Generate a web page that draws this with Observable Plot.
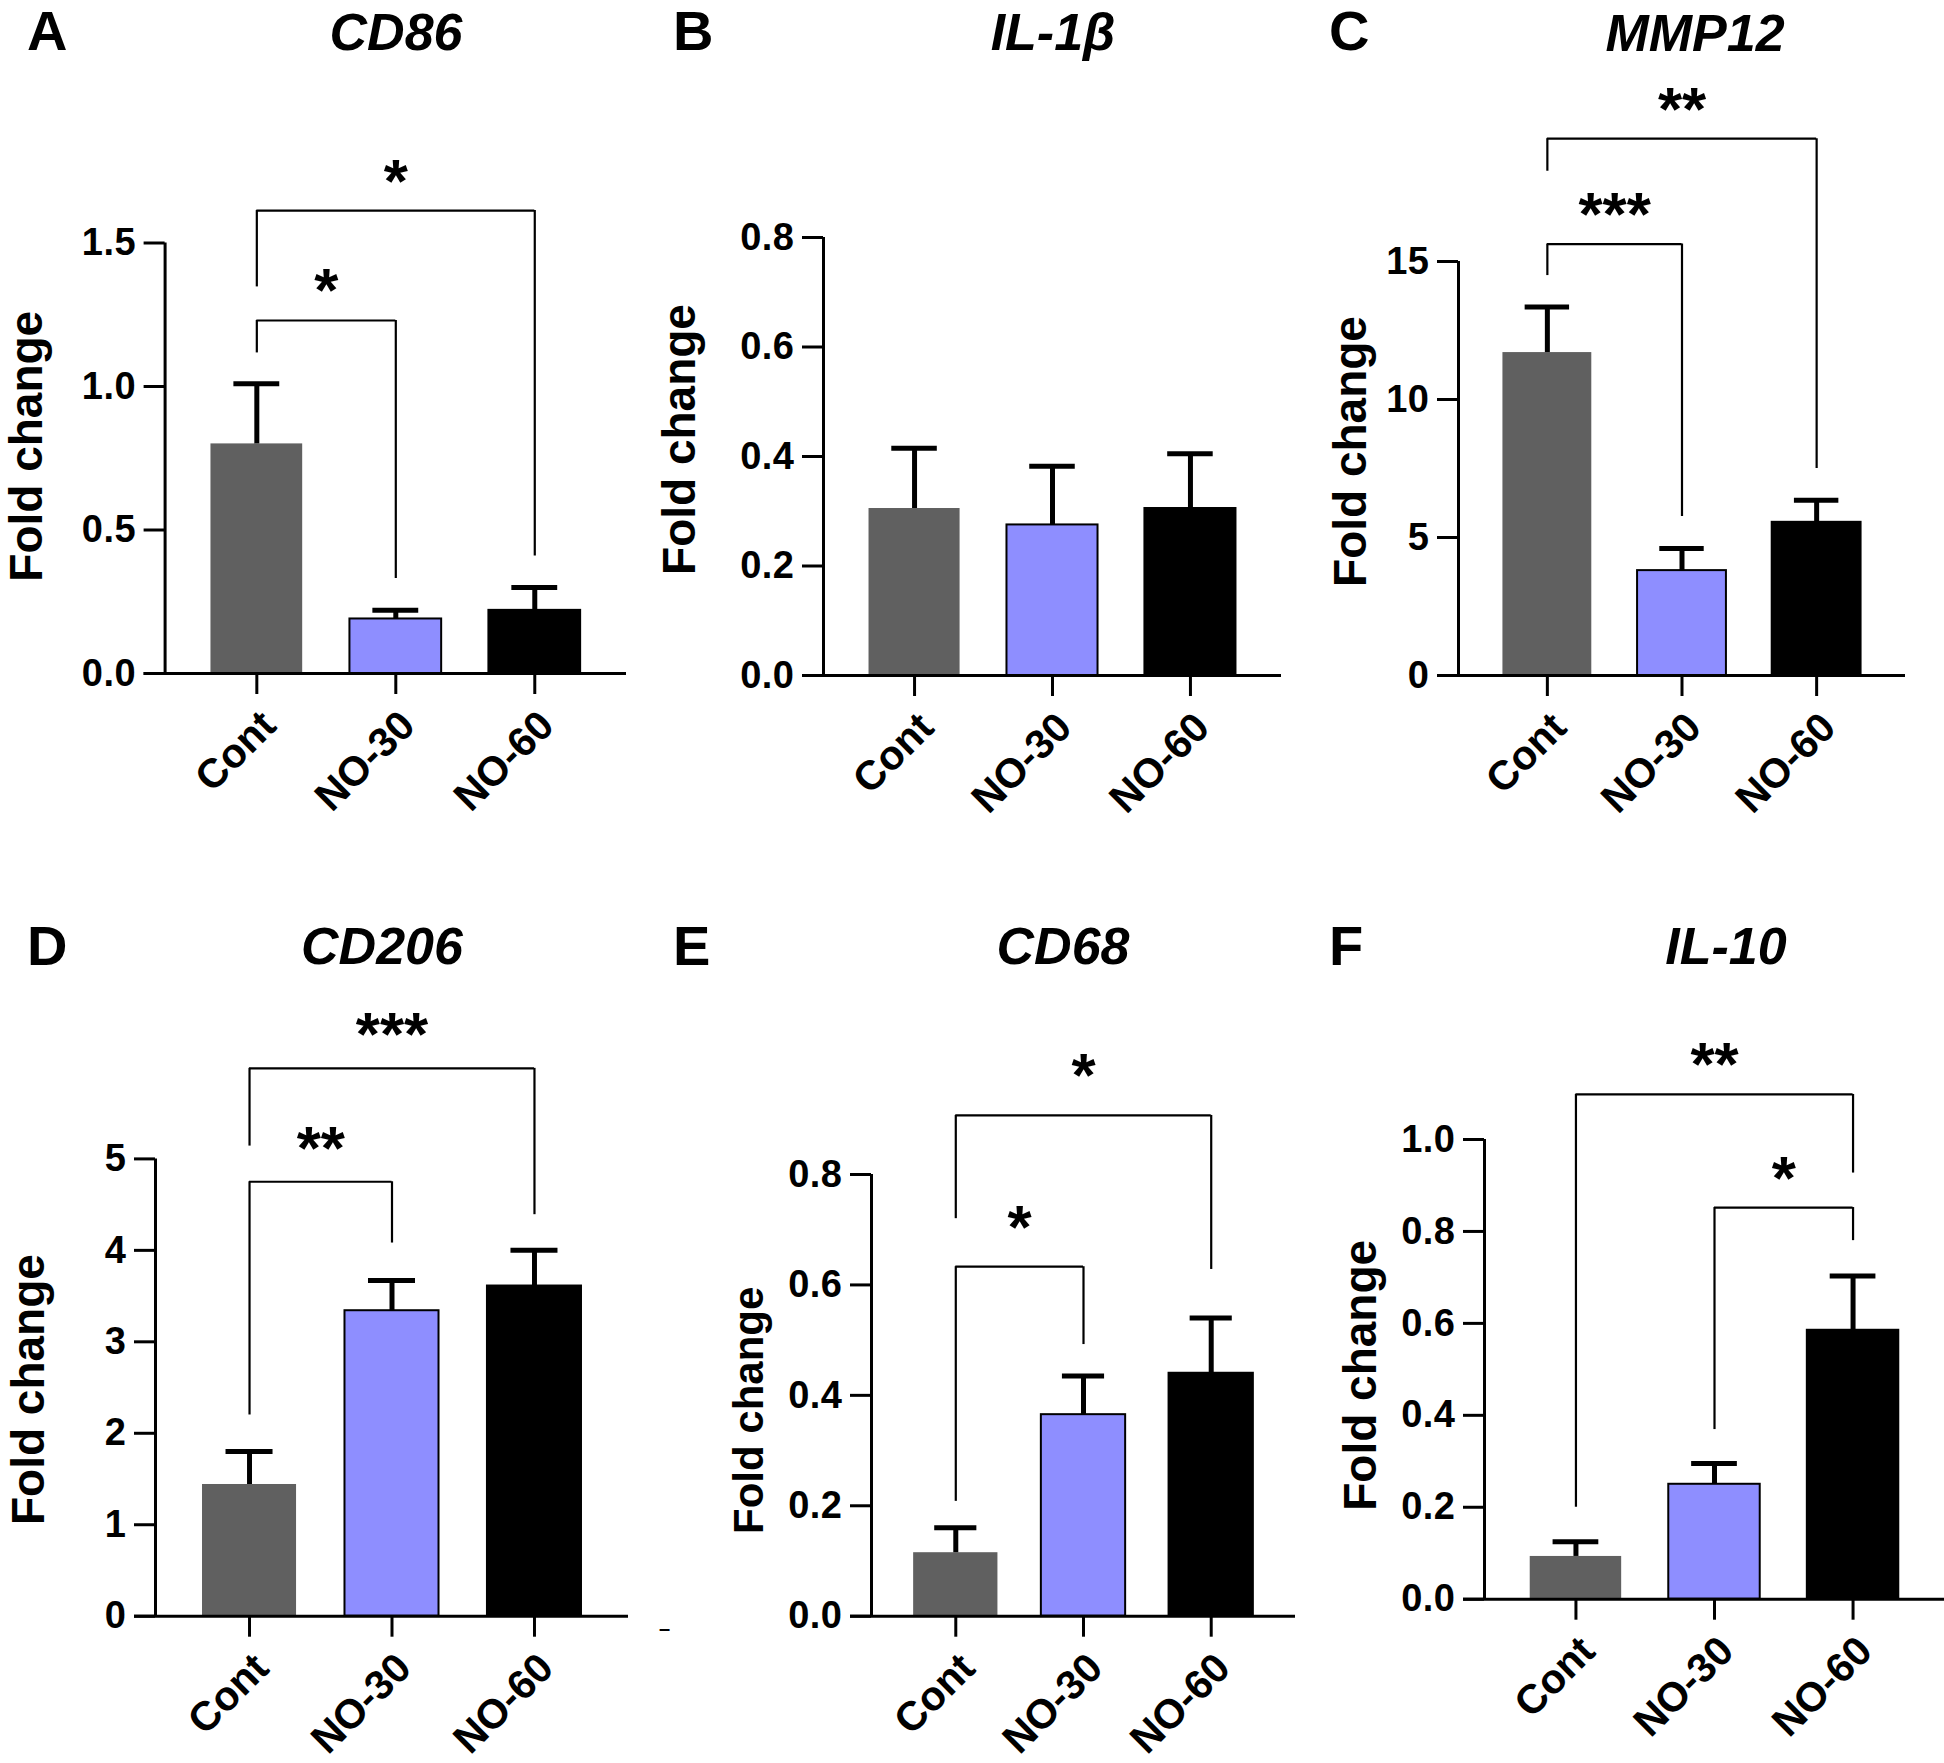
<!DOCTYPE html>
<html>
<head>
<meta charset="utf-8">
<script src="https://cdn.jsdelivr.net/npm/d3@7"></script>
<script src="https://cdn.jsdelivr.net/npm/@observablehq/plot@0.6"></script>
<style>
  html, body { margin: 0; padding: 0; background: #fff; }
  #page { position: relative; width: 1944px; height: 1763px; overflow: hidden; background: #fff;
          font-family: "Liberation Sans", Arial, sans-serif; color: #000; }
  .panel { position: absolute; }
  .panel svg { overflow: visible; }
  .title { position: absolute; font-weight: bold; font-style: italic; font-size: 52px; line-height: 1;
           transform: translateX(-50%); white-space: nowrap; z-index: 2; }
  .letter { position: absolute; font-weight: bold; font-size: 56px; line-height: 1; z-index: 2; }
  g[aria-label="y-axis tick label"] text { letter-spacing: 0.5px; }
  g[aria-label="group label"] text { letter-spacing: 1px; }
  g[aria-label="fold label"] text { letter-spacing: 3.5px; }
  g[aria-label="stars"] text { letter-spacing: 4px; }
</style>
</head>
<body>
<div id="page"></div>
<script>
// ---------- data ----------
const groups = ["Cont", "NO-30", "NO-60"];
const groupColors = ["#606060", "#8e8eff", "#000000"];
const groupOutline = [false, true, true];
const genes = ["CD86", "IL-1β", "MMP12", "CD206", "CD68", "IL-10"];
const letters = ["A", "B", "C", "D", "E", "F"];
const yLabel = "Fold change";

const meanCD86  = [0.80, 0.19, 0.22];
const semCD86   = [0.21, 0.03, 0.08];
const meanIL1b  = [0.305, 0.275, 0.305];
const semIL1b   = [0.11, 0.107, 0.10];
const meanMMP12 = [11.7, 3.8, 5.55];
const semMMP12  = [1.65, 0.8, 0.8];
const meanCD206 = [1.44, 3.34, 3.61];
const semCD206  = [0.36, 0.33, 0.39];
const meanCD68  = [0.115, 0.365, 0.44];
const semCD68   = [0.045, 0.07, 0.10];
const meanIL10  = [0.093, 0.25, 0.585];
const semIL10   = [0.032, 0.045, 0.118];

const ticksCD86  = [0, 0.5, 1.0, 1.5];
const ticksIL1b  = [0, 0.2, 0.4, 0.6, 0.8];
const ticksMMP12 = [0, 5, 10, 15];
const ticksCD206 = [0, 1, 2, 3, 4, 5];
const ticksCD68  = [0, 0.2, 0.4, 0.6, 0.8];
const ticksIL10  = [0, 0.2, 0.4, 0.6, 0.8, 1.0];

// significance brackets: [group a, group b, bracket top, leg bottom at a, leg bottom at b, label]
const bracketsCD86  = [[0, 1, 1.23, 1.117, 0.331, "*"], [0, 2, 1.613, 1.347, 0.409, "*"]];
const bracketsIL1b  = [];
const bracketsMMP12 = [[0, 1, 15.63, 14.49, 5.76, "***"], [0, 2, 19.45, 18.27, 7.5, "**"]];
const bracketsCD206 = [[0, 1, 4.75, 2.2, 4.08, "**"], [0, 2, 5.99, 5.14, 4.39, "***"]];
const bracketsCD68  = [[0, 1, 0.633, 0.208, 0.492, "*"], [0, 2, 0.907, 0.72, 0.628, "*"]];
const bracketsIL10  = [[1, 2, 0.852, 0.369, 0.78, "*"], [0, 2, 1.098, 0.2, 0.927, "**"]];

// ---------- layout (pixels) ----------
const FONT = '"Liberation Sans", Arial, sans-serif';
const xDomain = [-0.66, 2.66];
const barHalf = 0.33, capHalf = 0.165, tickLen = 21;

const panels = [
  {mean: meanCD86,  sem: semCD86,  ticks: ticksCD86,  br: bracketsCD86,  fmt: ".1f",
   left: 0,    top: 0,   w: 650, h: 880, axisX: 164.6, right: 626, y0: 673,   yTop: 242.5,
   labDx: -138, labDy: -12, labFs: 46, starDy: -9, titleX: 396, titleBase: 50},
  {mean: meanIL1b,  sem: semIL1b,  ticks: ticksIL1b,  br: bracketsIL1b,  fmt: ".1f",
   left: 650,  top: 0,   w: 650, h: 880, axisX: 173,   right: 631, y0: 675,   yTop: 237,
   labDx: -143, labDy: -17, labFs: 46, starDy: -9, titleX: 1053, titleBase: 50},
  {mean: meanMMP12, sem: semMMP12, ticks: ticksMMP12, br: bracketsMMP12, fmt: "d",
   left: 1300, top: 0,   w: 644, h: 880, axisX: 158,   right: 605, y0: 675,   yTop: 261,
   labDx: -107, labDy: -17, labFs: 46, starDy: -9, titleX: 1695, titleBase: 51},
  {mean: meanCD206, sem: semCD206, ticks: ticksCD206, br: bracketsCD206, fmt: "d",
   left: 0,    top: 880, w: 650, h: 883, axisX: 155,   right: 628, y0: 735.7, yTop: 278.4,
   labDx: -126, labDy: 2,   labFs: 46, starDy: -13, titleX: 382, titleBase: 964},
  {mean: meanCD68,  sem: semCD68,  ticks: ticksCD68,  br: bracketsCD68,  fmt: ".1f",
   left: 650,  top: 880, w: 650, h: 883, axisX: 221,   right: 645, y0: 735.7, yTop: 294,
   labDx: -122, labDy: 15,  labFs: 42, starDy: -19, titleX: 1063, titleBase: 964},
  {mean: meanIL10,  sem: semIL10,  ticks: ticksIL10,  br: bracketsIL10,  fmt: ".1f",
   left: 1300, top: 880, w: 644, h: 883, axisX: 184,   right: 644, y0: 718.7, yTop: 259,
   labDx: -123, labDy: 6,   labFs: 46, starDy: -9, titleX: 1726, titleBase: 964}
];
const letterPos = [[27, 50], [673, 50], [1329, 50], [27, 965], [673, 965], [1329, 965]];

const page = document.getElementById("page");

panels.forEach((p, k) => {
  const rows = groups.map((g, i) => ({i, group: g, mean: p.mean[i], sem: p.sem[i]}));
  const brs = p.br.map(([a, b, top, la, lb, label]) => ({a, b, top, la, lb, label}));
  const yMax = p.ticks[p.ticks.length - 1];

  const chart = Plot.plot({
    width: p.w,
    height: p.h,
    marginLeft: p.axisX,
    marginRight: p.w - p.right,
    marginTop: p.yTop,
    marginBottom: p.h - p.y0,
    x: {domain: xDomain},
    y: {domain: [0, yMax]},
    color: {domain: groups, range: groupColors},
    style: {fontFamily: FONT, fontWeight: "bold", fontSize: "38px", color: "#000",
            background: "transparent", overflow: "visible"},
    marks: [
      Plot.rect(rows, {x1: d => d.i - barHalf, x2: d => d.i + barHalf, y1: 0, y2: "mean", fill: "group"}),
      Plot.rect(rows.filter(d => groupOutline[d.i]),
        {x1: d => d.i - barHalf, x2: d => d.i + barHalf, y1: 0, y2: "mean",
         fill: "none", stroke: "#000", strokeWidth: 2}),
      Plot.ruleX(rows, {x: "i", y1: "mean", y2: d => d.mean + d.sem, strokeWidth: 5}),
      Plot.ruleY(rows, {y: d => d.mean + d.sem, x1: d => d.i - capHalf, x2: d => d.i + capHalf, strokeWidth: 5}),
      Plot.ruleX([xDomain[0]], {y1: 0, y2: yMax, strokeWidth: 3}),
      Plot.ruleY([0], {strokeWidth: 3, insetLeft: -tickLen}),
      Plot.axisY({ticks: p.ticks, tickFormat: p.fmt, tickSize: tickLen, tickPadding: 8,
                  strokeWidth: 3, fontSize: 38, label: null}),
      Plot.axisX({ticks: [0, 1, 2], tickFormat: () => "", tickSize: tickLen, strokeWidth: 3, label: null}),
      Plot.text(groups, {x: (d, i) => i, frameAnchor: "bottom", rotate: -45, textAnchor: "end",
                         lineAnchor: "middle", dx: 12, dy: 45, fontSize: 41, ariaLabel: "group label"}),
      Plot.text([yLabel], {frameAnchor: "left", rotate: -90, textAnchor: "middle", lineAnchor: "middle",
                           dx: p.labDx, dy: p.labDy, fontSize: p.labFs, ariaLabel: "fold label"}),
      Plot.ruleX(brs, {x: "a", y1: "la", y2: "top", strokeWidth: 2.2}),
      Plot.ruleX(brs, {x: "b", y1: "lb", y2: "top", strokeWidth: 2.2}),
      Plot.ruleY(brs, {y: "top", x1: "a", x2: "b", strokeWidth: 2.2}),
      Plot.text(brs, {x: d => (d.a + d.b) / 2, y: "top", text: "label", lineAnchor: "bottom",
                      dy: p.starDy, fontSize: 62, ariaLabel: "stars"})
    ]
  });

  const holder = document.createElement("div");
  holder.className = "panel";
  holder.style.left = p.left + "px";
  holder.style.top = p.top + "px";
  holder.style.width = p.w + "px";
  holder.style.height = p.h + "px";
  holder.appendChild(chart);
  page.appendChild(holder);

  const t = document.createElement("div");
  t.className = "title";
  t.textContent = genes[k];
  t.style.left = p.titleX + "px";
  t.style.top = (p.titleBase - 0.8465 * 52) + "px";
  page.appendChild(t);

  const l = document.createElement("div");
  l.className = "letter";
  l.textContent = letters[k];
  l.style.left = letterPos[k][0] + "px";
  l.style.top = (letterPos[k][1] - 0.8465 * 56) + "px";
  page.appendChild(l);
});

// small stray dash present in the original figure
const dash = document.createElement("div");
dash.textContent = "–";
dash.style.cssText = "position:absolute;left:659px;top:1618px;font:bold 20px " + FONT + ";line-height:1;";
page.appendChild(dash);
</script>
</body>
</html>
